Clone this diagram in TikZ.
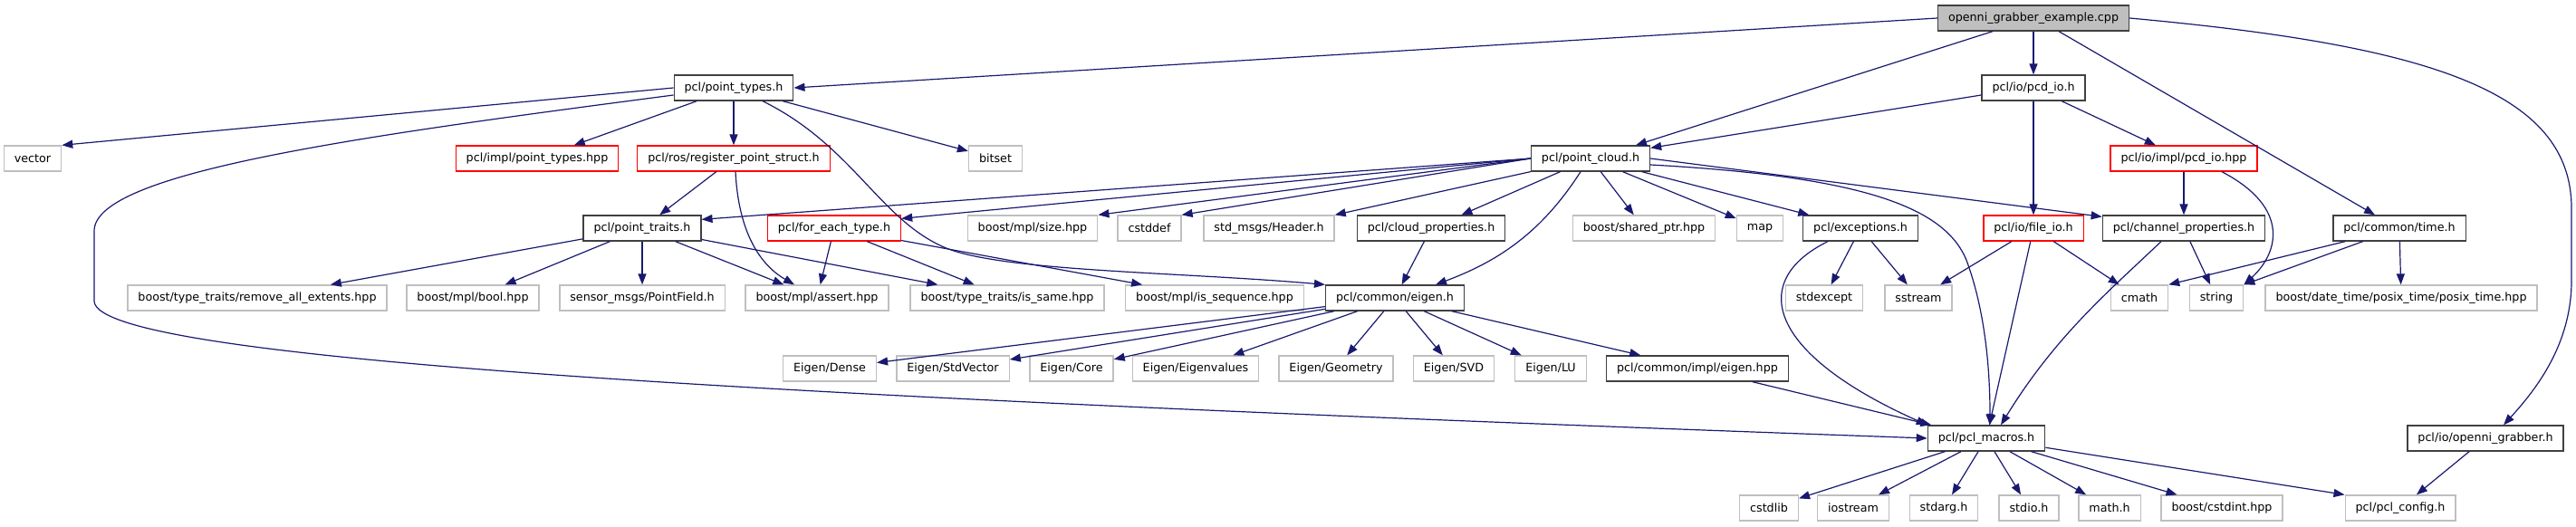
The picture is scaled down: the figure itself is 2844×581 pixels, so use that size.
\documentclass[tikz,border=0pt]{standalone}
\usepackage{fontspec}
\setmainfont{DejaVu Sans}
\usetikzlibrary{arrows.meta}

\definecolor{edgeblue}{HTML}{191970}
\definecolor{boxgray}{HTML}{BFBFBF}
\definecolor{boxdark}{HTML}{404040}

\tikzset{
  incl/.style={rectangle,fill=white,line width=1.3pt,minimum height=28pt,
    inner xsep=11.5pt,inner ysep=0pt,font=\fontsize{12.7}{15}\selectfont},
  doc/.style={incl,draw=boxdark},
  sys/.style={incl,draw=boxgray},
  trunc/.style={incl,draw=red},
  rootfile/.style={incl,draw=boxdark,fill=boxgray},
  dep/.style={draw=edgeblue,line width=1.2pt,-{Triangle[length=12pt,width=9pt]}}
}

\begin{document}
\begin{tikzpicture}[x=1pt,y=-1pt]
\useasboundingbox (0,0) rectangle (2844,581);

% files, row by row
\node[rootfile] (root) at (2245,20) {openni\_grabber\_example.cpp};

\node[doc] (ptypes) at (810,97) {pcl/point\_types.h};
\node[doc] (pcdio) at (2245,97) {pcl/io/pcd\_io.h};

\node[sys] (vector) at (36,175) {vector};
\node[trunc] (ptimpl) at (593,175) {pcl/impl/point\_types.hpp};
\node[trunc] (regps) at (810,175) {pcl/ros/register\_point\_struct.h};
\node[sys] (bitset) at (1099,175) {bitset};
\node[doc] (pcloud) at (1756,175) {pcl/point\_cloud.h};
\node[trunc] (pcdimpl) at (2411,175) {pcl/io/impl/pcd\_io.hpp};

\node[doc] (ptraits) at (709,252) {pcl/point\_traits.h};
\node[trunc] (foreach) at (921,252) {pcl/for\_each\_type.h};
\node[sys] (mplsize) at (1140,252) {boost/mpl/size.hpp};
\node[sys] (cstddef) at (1269,252) {cstddef};
\node[sys] (header) at (1401,252) {std\_msgs/Header.h};
\node[doc] (cloudprop) at (1580,252) {pcl/cloud\_properties.h};
\node[sys] (sharedptr) at (1815,252) {boost/shared\_ptr.hpp};
\node[sys] (map) at (1943,252) {map};
\node[doc] (except) at (2054,252) {pcl/exceptions.h};
\node[trunc] (fileio) at (2245,252) {pcl/io/file\_io.h};
\node[doc] (chanprop) at (2411,252) {pcl/channel\_properties.h};
\node[doc] (time) at (2649,252) {pcl/common/time.h};

\node[sys] (remext) at (284,329) {boost/type\_traits/remove\_all\_extents.hpp};
\node[sys] (mplbool) at (522,329) {boost/mpl/bool.hpp};
\node[sys] (ptfield) at (709,329) {sensor\_msgs/PointField.h};
\node[sys] (massert) at (902,329) {boost/mpl/assert.hpp};
\node[sys] (issame) at (1112,329) {boost/type\_traits/is\_same.hpp};
\node[sys] (isseq) at (1341,329) {boost/mpl/is\_sequence.hpp};
\node[doc] (eigen) at (1540,329) {pcl/common/eigen.h};
\node[sys] (stdexcept) at (2014,329) {stdexcept};
\node[sys] (sstream) at (2118,329) {sstream};
\node[sys] (cmath) at (2362,329) {cmath};
\node[sys] (string) at (2447,329) {string};
\node[sys] (posix) at (2651,329) {boost/date\_time/posix\_time/posix\_time.hpp};

\node[sys] (edense) at (916,407) {Eigen/Dense};
\node[sys] (estdvec) at (1052,407) {Eigen/StdVector};
\node[sys] (ecore) at (1183,407) {Eigen/Core};
\node[sys] (eeigval) at (1320,407) {Eigen/Eigenvalues};
\node[sys] (egeom) at (1475,407) {Eigen/Geometry};
\node[sys] (esvd) at (1605,407) {Eigen/SVD};
\node[sys] (elu) at (1712,407) {Eigen/LU};
\node[doc] (eigenimpl) at (1874,407) {pcl/common/impl/eigen.hpp};

\node[doc] (macros) at (2193,484) {pcl/pcl\_macros.h};
\node[doc] (grabber) at (2744,484) {pcl/io/openni\_grabber.h};

\node[sys] (cstdlib) at (1953,561) {cstdlib};
\node[sys] (iostream) at (2046,561) {iostream};
\node[sys] (stdarg) at (2146,561) {stdarg.h};
\node[sys] (stdio) at (2240,561) {stdio.h};
\node[sys] (mathh) at (2329,561) {math.h};
\node[sys] (cstdint) at (2453,561) {boost/cstdint.hpp};
\node[sys] (config) at (2650,561) {pcl/pcl\_config.h};

% openni_grabber_example.cpp
\draw[dep] (root.west) -- (ptypes.east);
\draw[dep] ([xshift=-45pt]root.south) -- ([xshift=50pt]pcloud.north);
\draw[dep] (root) -- (pcdio);
\draw[dep] ([xshift=28pt]root.south) -- ([xshift=-27pt]time.north);
\draw[dep] (root.east) .. controls (2680,50) and (2839,100) .. (2839,230)
  -- (2839,310) .. controls (2839,380) and (2800,430) .. ([xshift=20pt]grabber.north);

% pcl/io/pcd_io.h
\draw[dep] ([yshift=-8pt]pcdio.west) -- ([yshift=-3pt]pcloud.north east);
\draw[dep] (pcdio) -- (fileio);
\draw[dep] (pcdio) -- (pcdimpl);
\draw[dep] (pcdimpl) -- (chanprop);
\draw[dep] ([xshift=42pt]pcdimpl.south) .. controls (2530,230) and (2515,280) .. (string.north east);

% pcl/point_types.h
\draw[dep] (ptypes.west) -- (vector.north east);
\draw[dep] ([yshift=-8pt]ptypes.west) .. controls (400,150) and (104,190) .. (104,255)
  -- (104,333) .. controls (110,400) and (900,440) .. (macros.west);
\draw[dep] (ptypes) -- (ptimpl);
\draw[dep] (ptypes) -- (regps);
\draw[dep] (ptypes) -- (bitset);
\draw[dep] ([xshift=32pt]ptypes.south) .. controls (940,160) and (970,240) .. (1040,272)
  .. controls (1100,300) and (1300,300) .. (eigen.north west);
\draw[dep] (regps) -- (ptraits);
\draw[dep] ([xshift=2pt]regps.south) .. controls (815,250) and (835,290) .. ([xshift=-25pt]massert.north);

% pcl/point_cloud.h
\draw[dep] (pcloud.west) -- ([yshift=-5pt]ptraits.north east);
\draw[dep] (pcloud.west) -- ([yshift=-4pt]foreach.north east);
\draw[dep] (pcloud.west) -- (mplsize.north east);
\draw[dep] (pcloud.west) -- (cstddef.north east);
\draw[dep] (pcloud) -- (header.north east);
\draw[dep] (pcloud) -- (cloudprop);
\draw[dep] ([xshift=-11pt]pcloud.south) .. controls (1700,260) and (1650,290) .. ([xshift=45pt]eigen.north);
\draw[dep] (pcloud) -- (sharedptr);
\draw[dep] (pcloud) -- (map);
\draw[dep] (pcloud) -- (except);
\draw[dep] (pcloud.east) -- ([yshift=-2pt]chanprop.north west);
\draw[dep] ([yshift=-7pt]pcloud.east) .. controls (2060,195) and (2150,230) .. (2172,290)
  .. controls (2190,340) and (2197,400) .. ([xshift=4pt]macros.north);

% pcl/point_traits.h, pcl/for_each_type.h
\foreach \t in {remext,mplbool,ptfield,massert,issame}
  \draw[dep] (ptraits) -- (\t);
\foreach \t in {massert,issame,isseq}
  \draw[dep] (foreach) -- (\t);
\draw[dep] (cloudprop) -- (eigen);

% pcl/common/eigen.h
\foreach \t in {edense,estdvec,ecore,eeigval,egeom,esvd,elu,eigenimpl}
  \draw[dep] (eigen) -- (\t);
\draw[dep] (eigenimpl) -- (macros);

% pcl/exceptions.h, pcl/io/file_io.h
\draw[dep] (except) -- (stdexcept);
\draw[dep] (except) -- (sstream);
\draw[dep] ([xshift=-36pt]except.south) .. controls (1930,310) and (1950,390) .. (macros.north west);
\draw[dep] (fileio) -- (sstream);
\draw[dep] (fileio) -- (cmath);
\draw[dep] (fileio) -- (macros);

% pcl/channel_properties.h, pcl/common/time.h
\draw[dep] ([xshift=-25pt]chanprop.south) .. controls (2330,320) and (2270,370) .. ([xshift=16pt]macros.north);
\draw[dep] (chanprop) -- (string);
\draw[dep] (time) -- (cmath.north east);
\draw[dep] (time) -- (string.north east);
\draw[dep] (time) -- (posix);

% pcl/pcl_macros.h
\foreach \t in {cstdlib,iostream,stdarg,stdio,mathh,cstdint}
  \draw[dep] (macros) -- (\t);
\draw[dep] (macros) -- (config.north west);
\draw[dep] (grabber) -- (config);
\end{tikzpicture}
\end{document}
